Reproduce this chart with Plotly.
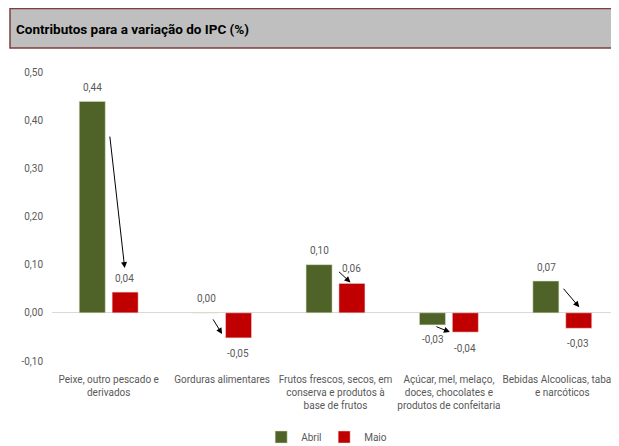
import plotly.graph_objects as go

categories = [
    "Peixe, outro pescado e<br>derivados",
    "Gorduras alimentares",
    "Frutos frescos, secos, em<br>conserva e produtos à<br>base de frutos",
    "Açúcar, mel, melaço,<br>doces, chocolates e<br>produtos de confeitaria",
    "Bebidas Alcoolicas, tabaco<br>e narcóticos",
]
abril = [0.439, 0.0, 0.10, -0.025, 0.066]
maio = [0.043, -0.052, 0.061, -0.040, -0.032]
abril_labels = ["0,44", "0,00", "0,10", "-0,03", "0,07"]
maio_labels = ["0,04", "-0,05", "0,06", "-0,04", "-0,03"]
y_ticks = [-0.1, 0.0, 0.1, 0.2, 0.3, 0.4, 0.5]
y_tick_text = ["-0,10", "0,00", "0,10", "0,20", "0,30", "0,40", "0,50"]

GREEN = "#4f6228"
RED = "#c00000"
FONT = "Roboto, sans-serif"
TXT = "#595959"
FS = 10

# page body adds an 8px offset; figure geometry compensates for it
W, H = 611, 438
L, T = 44, 64
PH = 289
B = H - T - PH

fig = go.Figure()
fig.add_trace(go.Bar(x=categories, y=abril, name="Abril", marker_color=GREEN,
                     marker_line=dict(color="#d7e4bd", width=0.5)))
fig.add_trace(go.Bar(x=categories, y=maio, name="Maio", marker_color=RED,
                     marker_line=dict(color="#f2dcdb", width=0.5)))

# data labels (positioned relative to bar values)
ab_off = [14, 14, 14, -15, 14]
ma_off = [14, -16, 15, -16, -15]
for i, c in enumerate(categories):
    fig.add_annotation(x=c, y=abril[i], text=abril_labels[i],
                       xshift=-16, yshift=ab_off[i], showarrow=False,
                       font=dict(family=FONT, size=FS, color=TXT))
    fig.add_annotation(x=c, y=maio[i], text=maio_labels[i],
                       xshift=16, yshift=ma_off[i], showarrow=False,
                       font=dict(family=FONT, size=FS, color=TXT))

# arrows (tip offsets relative to category centre / Maio value)
arrows = [
    # (category index, y value for tip, tip xshift, tip yshift, ax, ay)
    (0, maio[0], 16, 24, -15, -133),
    (1, maio[1], 0, 4, -10, -16),
    (2, maio[2], 15, 1, -13, -12),
    (3, maio[3], 1, 0, -15, -6),
    (4, maio[4], 17, 21, -17, -20),
]
for idx, yv, xs, ys, ax, ay in arrows:
    fig.add_annotation(x=categories[idx], y=yv, xshift=xs, yshift=ys, ax=ax, ay=ay,
                       showarrow=True, arrowhead=2, arrowsize=1.2, arrowwidth=1,
                       arrowcolor="black", text="")

PW = W - L
# title bar
fig.add_shape(type="rect", xref="paper", yref="paper",
              x0=(2 - L) / PW, x1=1.05, y0=1 + (T - 40) / PH, y1=1 + (T - 0.5) / PH,
              fillcolor="#bfbfbf", line=dict(color="#7f3f3f", width=1.5), layer="below")
fig.add_annotation(xref="paper", yref="paper", x=(6 - L) / PW, y=1 + (T - 21) / PH,
                   xanchor="left", yanchor="middle", showarrow=False,
                   text="<b>Contributos para a variação do IPC (%)</b>",
                   font=dict(family=FONT, size=13.5, color="black"))

fig.update_layout(
    width=W, height=H,
    margin=dict(l=L, r=0, t=T, b=B, autoexpand=False),
    paper_bgcolor="white", plot_bgcolor="white",
    barmode="group", bargap=0.42, bargroupgap=0.21,
    font=dict(family=FONT, size=FS, color=TXT),
    legend=dict(orientation="h", x=0.48, xanchor="center", y=-0.263, yanchor="middle",
                font=dict(family=FONT, size=FS, color=TXT), itemwidth=30,
                entrywidth=18, entrywidthmode="pixels",
                traceorder="normal"),
    xaxis=dict(showline=False, ticks="", automargin=False, tickangle=0,
               ticklabelstandoff=11,
               tickfont=dict(family=FONT, size=FS, color=TXT)),
    yaxis=dict(range=[-0.1, 0.5], tickvals=y_ticks, ticktext=y_tick_text,
               showgrid=False, zeroline=True, zerolinecolor="#d9d9d9", zerolinewidth=1,
               showline=False, ticks="", ticklabelstandoff=8, automargin=False,
               tickfont=dict(family=FONT, size=FS, color=TXT)),
    showlegend=True,
)

fig.write_html("out.html")
